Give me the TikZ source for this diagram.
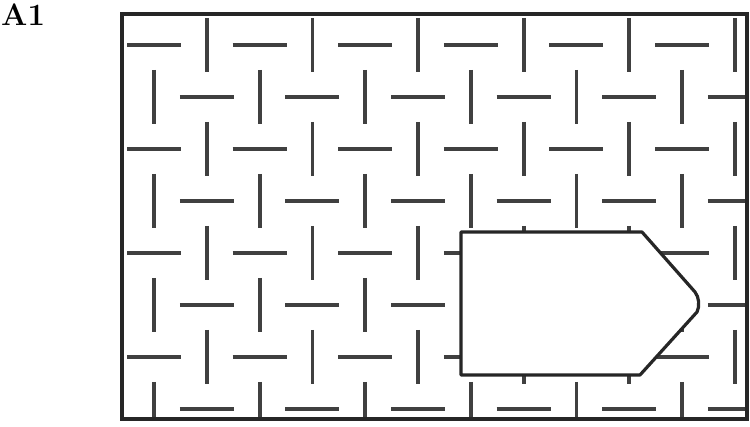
\documentclass[tikz,border=0pt]{standalone}
\begin{document}
\begin{tikzpicture}[x=1pt,y=-1pt,
  frameline/.style={line width=3.4pt,draw=black!85},
  dashline/.style={line width=3.8pt,draw=black!75},
  shapeline/.style={line width=3.2pt,draw=black!85,fill=white,line join=round}]
\useasboundingbox (0,0) rectangle (750,427);
\node[anchor=base west,inner sep=0pt,font=\fontsize{31}{33}\selectfont\bfseries] (label) at (1,26) {A1};
\begin{scope}
  \clip (122,14) rectangle (747,419);
  \foreach \i in {0,...,11}{
    \foreach \j in {0,...,7}{
      \pgfmathsetmacro{\cx}{154+52.8*\i}
      \pgfmathsetmacro{\cy}{45+52*\j}
      \pgfmathtruncatemacro{\myparity}{mod(\i+\j,2)}
      \ifnum\myparity=0
        \draw[dashline] (\cx-27,\cy) -- (\cx+27,\cy);
      \else
        \draw[dashline] (\cx,\cy-27) -- (\cx,\cy+27);
      \fi
    }
  }
\end{scope}
\draw[frameline] (122,14) rectangle (747,419);
\draw[shapeline] (461,232) -- (642,232) -- (695,292)
  .. controls (699,297) and (700,306) .. (697,312) -- (640,375) -- (461,375) -- cycle;
\end{tikzpicture}
\end{document}
